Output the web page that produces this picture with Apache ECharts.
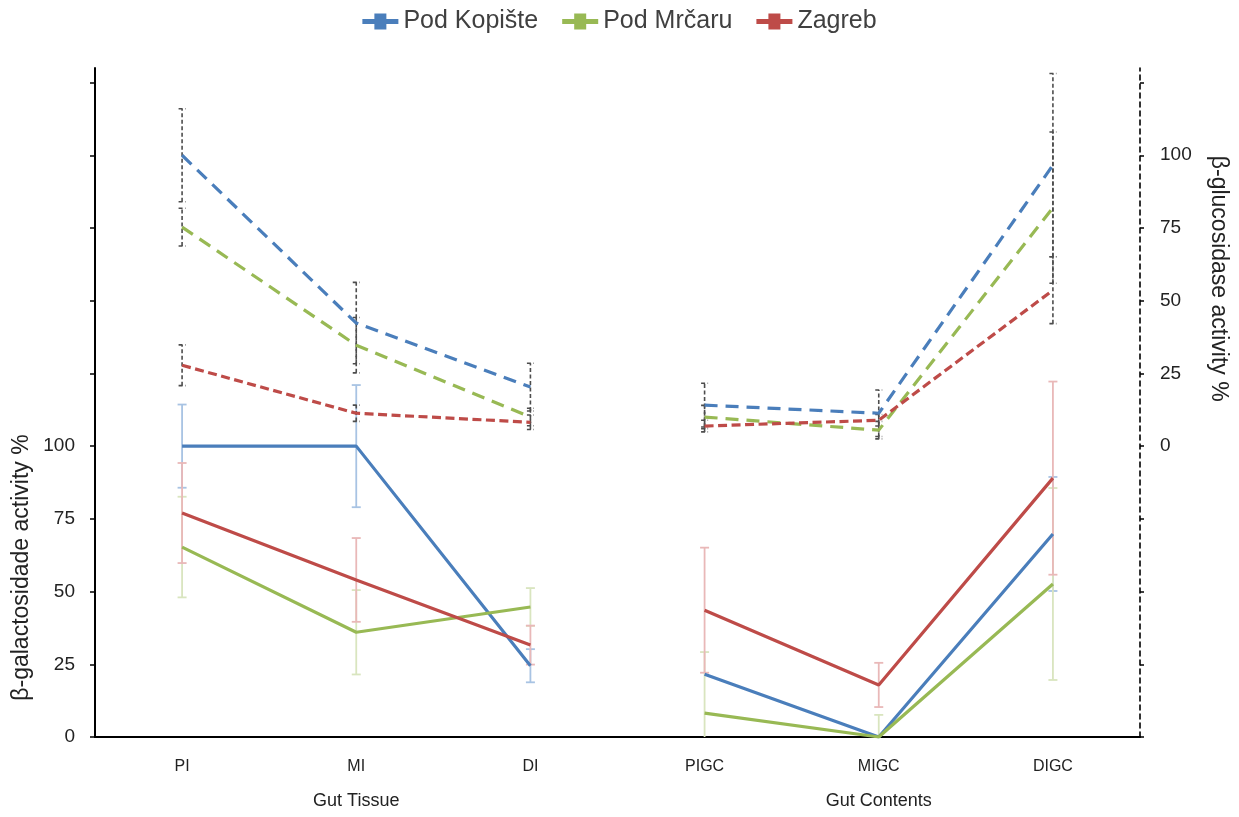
<!DOCTYPE html>
<html>
<head>
<meta charset="utf-8">
<title>β-galactosidase and β-glucosidase activity</title>
<script src="https://cdn.jsdelivr.net/npm/echarts@6/dist/echarts.min.js"></script>
<style>
  html, body { margin: 0; padding: 0; background: #ffffff; }
  #chart { width: 1239px; height: 817px; }
</style>
</head>
<body>
<div id="chart"></div>
<script>
// Gut sections along the x axis and the two section groups beneath them
const categories = ['PI', 'MI', 'DI', 'PIGC', 'MIGC', 'DIGC'];
const groups = ['Gut Tissue', 'Gut Contents'];
const sites = ['Pod Kopište', 'Pod Mrčaru', 'Zagreb'];

// β-galactosidase activity % (left axis), solid lines, with ± error
const galKopiste    = [100, 100, 24.5, 21.6, 0, 69.8];
const galKopisteErr = [14.3, 21, 5.7, 0, 0, 19.6];
const galMrcaru     = [65.3, 36, 44.7, 8.2, 0, 52.6];
const galMrcaruErr  = [17.3, 14.5, 6.5, 21, 7.6, 33];
const galZagreb     = [77, 54, 31.6, 43.6, 17.9, 89];
const galZagrebErr  = [17.2, 14.4, 6.7, 21.5, 7.6, 33.2];

// β-glucosidase activity % (right axis), dashed lines, with ± error
const glucKopiste    = [100, 42.3, 20.3, 14.1, 11.3, 96.6];
const glucKopisteErr = [16, 14, 8.2, 7.5, 8, 31.5];
const glucMrcaru     = [75.3, 34.7, 10, 10, 5.5, 82];
const glucMrcaruErr  = [6.5, 9.5, 3, 4, 3, 26];
const glucZagreb     = [27.8, 11.3, 8.2, 6.9, 8.9, 53.6];
const glucZagrebErr  = [7, 2.8, 2.5, 2, 2, 11.5];

// Axis ranges, tick positions and the labelled part of each axis
const leftRange = { min: 0, max: 230, interval: 25, labelMax: 100 };
const rightRange = { min: -100, max: 130, interval: 25, labelMin: 0, labelMax: 100 };
const leftTicks = [0, 25, 50, 75, 100, 125, 150, 175, 200, 225];
const rightTicks = [-100, -75, -50, -25, 0, 25, 50, 75, 100, 125];

const colors = { blue: '#4a7ebb', green: '#98b954', red: '#be4b48' };
const barColors = { blue: '#a8c3e3', green: '#d9e5bf', red: '#e9b8b8' };
const FONT = '"Liberation Sans", "DejaVu Sans", sans-serif';

// Tissue (first three) and contents (last three) are drawn as separate runs
const tissueIdx = [0, 1, 2];
const contentsIdx = [3, 4, 5];

function part(values, idx) {
  return values.map((v, i) => (idx.indexOf(i) >= 0 ? v : '-'));
}

function errorData(values, errs) {
  const out = [];
  values.forEach((v, i) => {
    if (errs[i] > 0) out.push([i, v - errs[i], v + errs[i]]);
  });
  return out;
}

function errorSeries(name, values, errs, yAxisIndex, color, dashed) {
  return {
    name: name,
    type: 'custom',
    yAxisIndex: yAxisIndex,
    clip: true,
    z: 1,
    silent: true,
    encode: { x: 0, y: [1, 2] },
    data: errorData(values, errs),
    renderItem: function (params, api) {
      const lo = api.coord([api.value(0), api.value(1)]);
      const hi = api.coord([api.value(0), api.value(2)]);
      const half = dashed ? 3.5 : 4.5;
      const style = {
        stroke: color,
        lineWidth: dashed ? 1.6 : 1.8,
        lineDash: dashed ? [4, 2.5] : null
      };
      return {
        type: 'group',
        children: [
          { type: 'line', shape: { x1: lo[0], y1: lo[1], x2: hi[0], y2: hi[1] }, style: style },
          { type: 'line', shape: { x1: lo[0] - half, y1: lo[1], x2: lo[0] + half, y2: lo[1] }, style: style },
          { type: 'line', shape: { x1: hi[0] - half, y1: hi[1], x2: hi[0] + half, y2: hi[1] }, style: style }
        ]
      };
    }
  };
}

function lineSeries(name, values, yAxisIndex, color, dash) {
  return {
    name: name,
    type: 'line',
    yAxisIndex: yAxisIndex,
    data: values,
    symbol: 'none',
    connectNulls: false,
    z: 3,
    color: color,
    itemStyle: { color: color },
    lineStyle: { color: color, width: 3.2, type: dash || 'solid', cap: 'butt' }
  };
}

// Each site gets a tissue run and a contents run on both axes
function siteLines(name, values, yAxisIndex, color, dash) {
  const label = yAxisIndex === 0 ? name : 'β-glucosidase ' + name;
  return [
    lineSeries(label, part(values, tissueIdx), yAxisIndex, color, dash),
    lineSeries(label, part(values, contentsIdx), yAxisIndex, color, dash)
  ];
}

const legendIcon = 'path://M0,5.5H12V0H24V5.5H36V10.5H24V16H12V10.5H0Z';

const chart = echarts.init(document.getElementById('chart'), null, { renderer: 'canvas' });

const option = {
  backgroundColor: '#ffffff',
  animation: false,
  textStyle: { fontFamily: FONT },
  legend: {
    top: 4,
    left: 'center',
    itemWidth: 36,
    itemHeight: 16,
    itemGap: 24,
    textStyle: { fontSize: 25, color: '#404040', fontFamily: FONT },
    data: sites.map(s => ({ name: s, icon: legendIcon }))
  },
  grid: { left: 95, right: 99, top: 68, bottom: 80, containLabel: false },
  xAxis: [
    {
      type: 'category',
      data: categories,
      boundaryGap: true,
      axisLine: { lineStyle: { color: '#000', width: 2 } },
      axisTick: { show: false },
      axisLabel: { fontSize: 16, color: '#222', margin: 22, fontFamily: FONT },
      splitLine: { show: false }
    },
    {
      type: 'category',
      data: groups,
      position: 'bottom',
      boundaryGap: true,
      axisLine: { show: false },
      axisTick: { show: false },
      axisLabel: { fontSize: 18, color: '#222', margin: 55, fontFamily: FONT },
      splitLine: { show: false }
    }
  ],
  yAxis: [
    {
      type: 'value',
      position: 'left',
      min: leftRange.min,
      max: leftRange.max,
      interval: leftRange.interval,
      axisLine: { show: true, onZero: false, lineStyle: { color: '#000', width: 2 } },
      axisTick: { show: true, length: 5, customValues: leftTicks, lineStyle: { color: '#000', width: 1.5 } },
      axisLabel: {
        fontSize: 19, color: '#222', margin: 20, fontFamily: FONT,
        formatter: v => (v <= leftRange.labelMax ? String(v) : '')
      },
      splitLine: { show: false }
    },
    {
      type: 'value',
      position: 'right',
      min: rightRange.min,
      max: rightRange.max,
      interval: rightRange.interval,
      axisLine: { show: true, onZero: false, lineStyle: { color: '#000', width: 1.6, type: [5, 4] } },
      axisTick: { show: true, length: 4, customValues: rightTicks, lineStyle: { color: '#000', width: 1.5 } },
      axisLabel: {
        fontSize: 19, color: '#222', margin: 20, fontFamily: FONT,
        formatter: v => (v >= rightRange.labelMin && v <= rightRange.labelMax ? String(v) : '')
      },
      splitLine: { show: false }
    }
  ],
  series: [
    errorSeries('err-gal-1', galKopiste, galKopisteErr, 0, barColors.blue, false),
    errorSeries('err-gal-2', galMrcaru, galMrcaruErr, 0, barColors.green, false),
    errorSeries('err-gal-3', galZagreb, galZagrebErr, 0, barColors.red, false),
    errorSeries('err-gluc-1', glucKopiste, glucKopisteErr, 1, '#4d4d4d', true),
    errorSeries('err-gluc-2', glucMrcaru, glucMrcaruErr, 1, '#4d4d4d', true),
    errorSeries('err-gluc-3', glucZagreb, glucZagrebErr, 1, '#4d4d4d', true)
  ].concat(
    siteLines(sites[0], galKopiste, 0, colors.blue),
    siteLines(sites[1], galMrcaru, 0, colors.green),
    siteLines(sites[2], galZagreb, 0, colors.red),
    siteLines(sites[0], glucKopiste, 1, colors.blue, [13, 8]),
    siteLines(sites[1], glucMrcaru, 1, colors.green, [13, 8]),
    siteLines(sites[2], glucZagreb, 1, colors.red, [9, 4.5])
  )
};

chart.setOption(option);

// Axis titles are centred near the labelled 0–100 stretch of each axis
const leftMid = chart.convertToPixel({ yAxisIndex: 0 }, 50);
const rightMid = chart.convertToPixel({ yAxisIndex: 1 }, 50);
chart.setOption({
  graphic: [
    {
      type: 'text',
      x: 22, y: leftMid - 24,
      rotation: Math.PI / 2,
      style: {
        text: 'β-galactosidade activity %',
        font: '23px ' + FONT, fill: '#222',
        align: 'center', verticalAlign: 'middle'
      }
    },
    {
      type: 'text',
      x: 1218, y: rightMid - 22,
      rotation: -Math.PI / 2,
      style: {
        text: 'β-glucosidase activity %',
        font: '23px ' + FONT, fill: '#222',
        align: 'center', verticalAlign: 'middle'
      }
    }
  ]
});
</script>
</body>
</html>
